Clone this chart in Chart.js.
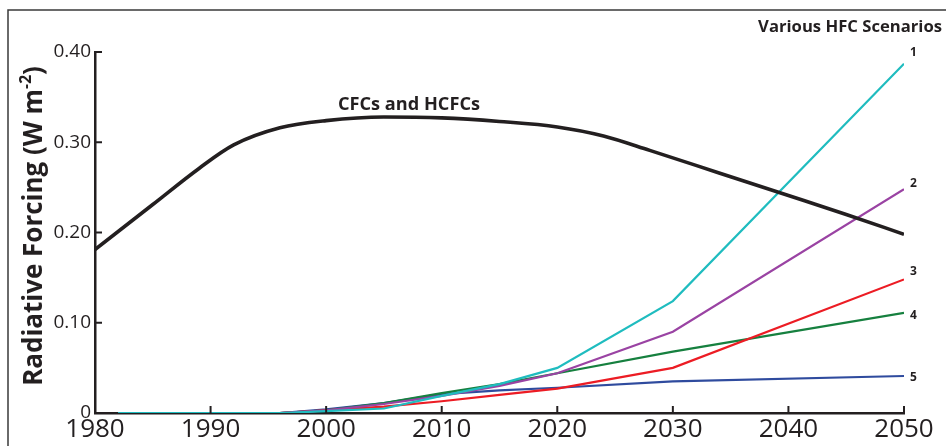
<!DOCTYPE html>
<html>
<head>
<meta charset="utf-8">
<script src="https://cdn.jsdelivr.net/npm/chart.js@4/dist/chart.umd.min.js"></script>
<style>
  html, body { margin: 0; padding: 0; background: #fff; }
  #wrap { width: 946px; height: 446px; position: relative; }
</style>
</head>
<body>
<div id="wrap"><canvas id="chart"></canvas></div>
<script>
// CFCs and HCFCs (black curve)
const cfcYears = [1980, 1985, 1989, 1992, 1996, 2000, 2005, 2010, 2015, 2020, 2024, 2028, 2034, 2040, 2045, 2050];
const cfcValues = [0.181, 0.231, 0.271, 0.297, 0.316, 0.324, 0.328, 0.327, 0.323, 0.317, 0.307, 0.291, 0.266, 0.241, 0.220, 0.198];

// HFC scenarios 1-5
const hfcYears = [1982, 1996, 2000, 2005, 2010, 2015, 2020, 2030, 2050];
const hfc1 = [0, 0, 0.002, 0.005, 0.019, 0.032, 0.050, 0.124, 0.387];
const hfc2 = [0, 0, 0.003, 0.010, 0.019, 0.030, 0.044, 0.090, 0.248];
const hfc3 = [0, 0, 0.003, 0.007, 0.013, 0.020, 0.027, 0.050, 0.148];
const hfc4 = [0, 0, 0.003, 0.011, 0.022, 0.032, 0.044, 0.068, 0.111];
const hfc5 = [0, 0, 0.004, 0.011, 0.021, 0.025, 0.028, 0.035, 0.041];
const scenarioNames = ["1", "2", "3", "4", "5"];

const xTicks = [1980, 1990, 2000, 2010, 2020, 2030, 2040, 2050];
const yTicks = [0, 0.1, 0.2, 0.3, 0.4];

const ink = "#231f20";
const scenarioColors = ["#1fbcbf", "#9a43a3", "#ec1c24", "#16803f", "#2f4b9e"];
const labelShift = [-11, -6, -8, 3, 2];

const pairs = (xs, ys) => xs.map((x, i) => ({ x, y: ys[i] }));

function fitFont(ctx, text, weight, family, width) {
    ctx.font = `${weight} 100px ${family}`;
    return 100 * width / ctx.measureText(text).width;
}

const decor = {
    id: "decor",
    beforeDraw(chart) {
        const ctx = chart.ctx;
        ctx.save();
        ctx.fillStyle = "#fff";
        ctx.fillRect(0, 0, chart.width, chart.height);
        ctx.strokeStyle = "#3a3a3a";
        ctx.lineWidth = 1.5;
        ctx.beginPath();
        ctx.moveTo(946, 10);
        ctx.lineTo(8, 10);
        ctx.lineTo(8, 446);
        ctx.stroke();
        ctx.restore();
    },
    afterDraw(chart) {
        const { ctx, scales: { x, y } } = chart;
        const fam = "'Open Sans', 'Noto Sans', sans-serif";
        ctx.save();
        ctx.strokeStyle = ink;
        ctx.lineWidth = 2;
        // inward tick marks
        yTicks.slice(1).forEach(v => {
            const py = y.getPixelForValue(v);
            ctx.beginPath();
            ctx.moveTo(x.left, py);
            ctx.lineTo(x.left + 7, py);
            ctx.stroke();
        });
        xTicks.slice(1).forEach(v => {
            const px = x.getPixelForValue(v);
            ctx.beginPath();
            ctx.moveTo(px, y.bottom);
            ctx.lineTo(px, y.bottom - 7);
            ctx.stroke();
        });

        ctx.fillStyle = ink;
        // y axis title with superscript
        const main = "Radiative Forcing (W m", sup = "-2", close = ")";
        const size = fitFont(ctx, main + close, "bold", fam, 306);
        ctx.font = `bold ${size}px ${fam}`;
        const w1 = ctx.measureText(main).width, w3 = ctx.measureText(close).width;
        ctx.font = `bold ${size * 0.6}px ${fam}`;
        const w2 = ctx.measureText(sup).width;
        const total = w1 + w2 + w3;
        ctx.translate(42, 226);
        ctx.rotate(-Math.PI / 2);
        ctx.textBaseline = "alphabetic";
        ctx.textAlign = "left";
        let cx = -total / 2;
        ctx.font = `bold ${size}px ${fam}`;
        ctx.fillText(main, cx, 0);
        cx += w1;
        ctx.font = `bold ${size * 0.6}px ${fam}`;
        ctx.fillText(sup, cx, -size * 0.42);
        cx += w2;
        ctx.font = `bold ${size}px ${fam}`;
        ctx.fillText(close, cx, 0);
        ctx.setTransform(1, 0, 0, 1, 0, 0);

        // annotations
        const s1 = fitFont(ctx, "CFCs and HCFCs", "bold", fam, 142);
        ctx.font = `bold ${s1}px ${fam}`;
        ctx.fillText("CFCs and HCFCs", 338, 110);

        const s2 = fitFont(ctx, "Various HFC Scenarios", "bold", fam, 184);
        ctx.font = `bold ${s2}px ${fam}`;
        ctx.textAlign = "right";
        ctx.fillText("Various HFC Scenarios", 942, 32);

        ctx.textAlign = "left";
        ctx.textBaseline = "middle";
        ctx.font = `bold 12px ${fam}`;
        scenarioNames.forEach((name, i) => {
            const pts = chart.getDatasetMeta(i).data;
            const last = pts[pts.length - 1];
            ctx.fillText(name, last.x + 6, last.y + labelShift[i]);
        });
        ctx.restore();
    }
};

const hfcSets = [hfc1, hfc2, hfc3, hfc4, hfc5].map((vals, i) => ({
    label: "HFC " + scenarioNames[i],
    data: pairs(hfcYears, vals),
    borderColor: scenarioColors[i],
    borderWidth: 2.2,
    pointRadius: 0,
    tension: 0,
    order: 2
}));

new Chart(document.getElementById("chart"), {
    type: "line",
    data: {
        datasets: [
            ...hfcSets,
            {
                label: "CFCs and HCFCs",
                data: pairs(cfcYears, cfcValues),
                borderColor: ink,
                borderWidth: 3.6,
                pointRadius: 0,
                cubicInterpolationMode: "monotone",
                order: 1
            }
        ]
    },
    options: {
        responsive: true,
        maintainAspectRatio: false,
        animation: false,
        layout: { padding: { top: 52, right: 42, left: 0, bottom: 0 } },
        plugins: { legend: { display: false }, tooltip: { enabled: false } },
        scales: {
            x: {
                type: "linear",
                min: 1980,
                max: 2050,
                afterFit: s => { s.height = 33; },
                afterBuildTicks: s => { s.ticks = xTicks.map(v => ({ value: v })); },
                grid: { display: false, drawTicks: false },
                border: { display: true, color: ink, width: 2.5 },
                ticks: {
                    color: ink,
                    padding: 1,
                    maxRotation: 0,
                    font: { family: "'Open Sans', sans-serif", size: 26 },
                    callback: v => String(v)
                }
            },
            y: {
                min: 0,
                max: 0.4,
                afterFit: s => { s.width = 95; },
                afterBuildTicks: s => { s.ticks = yTicks.map(v => ({ value: v })); },
                grid: { display: false, drawTicks: false },
                border: { display: true, color: ink, width: 2.5 },
                ticks: {
                    color: ink,
                    padding: 4,
                    font: { family: "'Open Sans', sans-serif", size: 19 },
                    callback: v => v === 0 ? "0" : v.toFixed(2)
                }
            }
        }
    },
    plugins: [decor]
});
</script>
</body>
</html>
